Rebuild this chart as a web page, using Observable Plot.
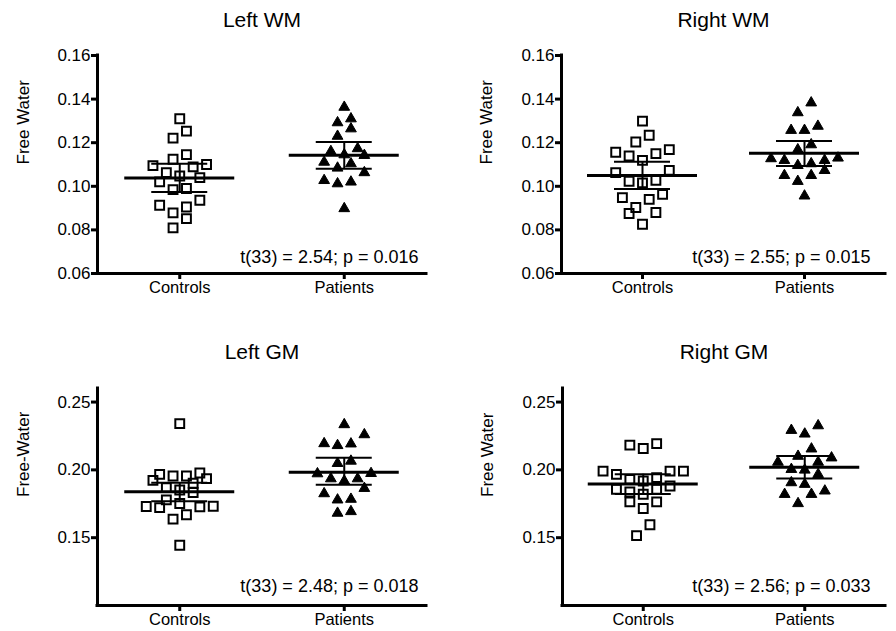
<!DOCTYPE html>
<html><head><meta charset="utf-8">
<script src="https://cdn.jsdelivr.net/npm/d3@7"></script>
<script src="https://cdn.jsdelivr.net/npm/@observablehq/plot@0.6"></script>
<style>
body{margin:0;background:#fff;}
#chart{position:relative;width:896px;height:631px;background:#fff;overflow:hidden;}
#chart svg{position:absolute;}
</style></head><body><div id="chart"></div>
<script>
// ---- data ----
const groups = ["Controls", "Patients"];
const panelTitles = ["Left WM", "Right WM", "Left GM", "Right GM"];
const yLabels = ["Free Water", "Free Water", "Free-Water", "Free Water"];
const statTexts = ["t(33) = 2.54; p = 0.016", "t(33) = 2.55; p = 0.015", "t(33) = 2.48; p = 0.018", "t(33) = 2.56; p = 0.033"];
const wmTicks = [0.06, 0.08, 0.10, 0.12, 0.14, 0.16];
const gmTicks = [0.15, 0.20, 0.25];
const wmDomain = [0.06, 0.16];
const gmDomain = [0.10, 0.26];

const leftWMControls = [0.1310, 0.1253, 0.1221, 0.1145, 0.1124, 0.1095, 0.1100, 0.1089, 0.1063, 0.1047, 0.1040, 0.1020, 0.0985, 0.0990, 0.0936, 0.0913, 0.0905, 0.0878, 0.0852, 0.0809];
const leftWMPatients = [0.1363, 0.1310, 0.1292, 0.1264, 0.1230, 0.1173, 0.1160, 0.1145, 0.1142, 0.1111, 0.1104, 0.1084, 0.1063, 0.1027, 0.1020, 0.1012, 0.0898];
const rightWMControls = [0.1299, 0.1234, 0.1203, 0.1168, 0.1156, 0.1150, 0.1139, 0.1119, 0.1073, 0.1063, 0.1027, 0.1023, 0.1016, 0.0963, 0.0948, 0.0940, 0.0903, 0.0880, 0.0875, 0.0826];
const rightWMPatients = [0.1383, 0.1338, 0.1276, 0.1257, 0.1257, 0.1191, 0.1168, 0.1130, 0.1127, 0.1119, 0.1119, 0.1104, 0.1096, 0.1073, 0.1050, 0.1050, 0.1023, 0.0956];
const leftGMControls = [0.2341, 0.1977, 0.1967, 0.1955, 0.1955, 0.1935, 0.1923, 0.1901, 0.1869, 0.1852, 0.1833, 0.1779, 0.1752, 0.1732, 0.1730, 0.1727, 0.1722, 0.1669, 0.1637, 0.1444];
const leftGMPatients = [0.2334, 0.2260, 0.2194, 0.2192, 0.2180, 0.2065, 0.2048, 0.1974, 0.1972, 0.1935, 0.1935, 0.1918, 0.1864, 0.1825, 0.1784, 0.1779, 0.1693, 0.1681];
const rightGMControls = [0.2194, 0.2182, 0.2158, 0.1991, 0.1991, 0.1991, 0.1967, 0.1943, 0.1930, 0.1918, 0.1881, 0.1857, 0.1857, 0.1837, 0.1820, 0.1764, 0.1764, 0.1715, 0.1595, 0.1515];
const rightGMPatients = [0.2326, 0.2292, 0.2265, 0.2155, 0.2101, 0.2089, 0.2057, 0.2057, 0.2004, 0.1999, 0.1967, 0.1906, 0.1894, 0.1845, 0.1820, 0.1820, 0.1752];

// mean and error-bar ends, [Controls, Patients]
const leftWMMean = [0.1038, 0.1142], leftWMLow = [0.0974, 0.1081], leftWMHigh = [0.1104, 0.1203];
const rightWMMean = [0.1050, 0.1152], rightWMLow = [0.0988, 0.1093], rightWMHigh = [0.1113, 0.1208];
const leftGMMean = [0.1838, 0.1982], leftGMLow = [0.1768, 0.1890], leftGMHigh = [0.1905, 0.2090];
const rightGMMean = [0.1895, 0.2020], rightGMLow = [0.1822, 0.1936], rightGMHigh = [0.1968, 0.2102];

// ---- layout ----
const FONT = '"Liberation Sans", Arial, Helvetica, sans-serif';
const STEP = 6.7;   // horizontal spread step (px)
const BIN = 13.2;   // row height for spreading (px)

function swarm(vals, y, binPx) {
  const order = d3.range(vals.length).sort((a, b) => vals[a] - vals[b]);
  const off = new Array(vals.length).fill(0);
  let i = 0;
  while (i < order.length) {
    const y0 = y(vals[order[i]]);
    let j = i + 1;
    while (j < order.length && y0 - y(vals[order[j]]) < binPx) j++;
    const row = order.slice(i, j).reverse();
    const n = row.length;
    const slots = d3.range(n).map(k => 2 * k - (n - 1))
      .sort((a, b) => Math.abs(b) - Math.abs(a) || b - a);
    row.forEach((idx, k) => off[idx] = slots[k]);
    i = j;
  }
  return off;
}

function panel(cfg) {
  const {width, height, mL, mR, mT, mB} = cfg;
  const y = d3.scaleLinear(cfg.domain, [height - mB, mT]);
  const pxPerUnit = (width - mL - mR) / 2;
  const controls = [], patients = [];
  [cfg.controls, cfg.patients].forEach((vals, g) => {
    const off = swarm(vals, y, BIN);
    vals.forEach((v, i) => (g ? patients : controls).push({value: v, x: g + 0.5 + off[i] * STEP / pxPerUnit}));
  });
  const summary = groups.map((name, g) => ({c: g + 0.5, mean: cfg.mean[g], lo: cfg.low[g], hi: cfg.high[g]}));
  const mh = 55 / pxPerUnit, bh = 28 / pxPerUnit;
  const svg = Plot.plot({
    width, height, marginLeft: mL, marginRight: mR, marginTop: mT, marginBottom: mB,
    style: {fontFamily: FONT, background: "transparent", color: "#000", overflow: "visible"},
    x: {domain: [0, 2]},
    y: {domain: cfg.domain},
    marks: [
      Plot.axisY({ticks: cfg.ticks, tickFormat: d3.format(".2f"), tickSize: 6, tickPadding: 1, strokeWidth: 3, fontSize: 17, label: null}),
      Plot.axisX({ticks: [0.5, 1.5], tickFormat: d => groups[Math.floor(d)], tickSize: 6, tickPadding: 2, strokeWidth: 3, fontSize: 16.5, label: null}),
      Plot.ruleX([0], {strokeWidth: 3, strokeLinecap: "square"}),
      Plot.ruleY([cfg.domain[0]], {strokeWidth: 3, strokeLinecap: "square"}),
      Plot.dot(controls, {x: "x", y: "value", symbol: "square", r: 5, stroke: "#000", strokeWidth: 2, fill: "none"}),
      Plot.dot(patients, {x: "x", y: "value", symbol: "triangle", r: 4, stroke: "#000", strokeWidth: 1, fill: "#000"}),
      Plot.ruleY(summary, {y: "mean", x1: d => d.c - mh, x2: d => d.c + mh, strokeWidth: 3}),
      Plot.ruleY(summary, {y: "lo", x1: d => d.c - bh, x2: d => d.c + bh, strokeWidth: 2}),
      Plot.ruleY(summary, {y: "hi", x1: d => d.c - bh, x2: d => d.c + bh, strokeWidth: 2}),
      Plot.ruleX(summary, {x: "c", y1: "lo", y2: "hi", strokeWidth: 2}),
      Plot.text([cfg.title], {text: d => d, frameAnchor: "top", dy: cfg.titleDy, fontSize: 21, lineAnchor: "middle"}),
      Plot.text([cfg.ylabel], {text: d => d, frameAnchor: "left", rotate: -90, dx: cfg.labelDx, fontSize: 17}),
      Plot.text([cfg.stat], {text: d => d, frameAnchor: "bottom-right", dx: cfg.statDx, dy: cfg.statDy, textAnchor: "end", lineAnchor: "middle", fontSize: 18})
    ]
  });
  svg.style.left = cfg.left + "px";
  svg.style.top = cfg.top + "px";
  document.getElementById("chart").appendChild(svg);
}

panel({left: 0, top: 0, width: 448, height: 310, mL: 97, mR: 22, mT: 55, mB: 37, domain: wmDomain, ticks: wmTicks,
  controls: leftWMControls, patients: leftWMPatients, mean: leftWMMean, low: leftWMLow, high: leftWMHigh,
  title: panelTitles[0], ylabel: yLabels[0], stat: statTexts[0], titleDy: -35, labelDx: -74, statDx: -8, statDy: -16});
panel({left: 448, top: 0, width: 448, height: 310, mL: 113, mR: 11, mT: 55, mB: 37, domain: wmDomain, ticks: wmTicks,
  controls: rightWMControls, patients: rightWMPatients, mean: rightWMMean, low: rightWMLow, high: rightWMHigh,
  title: panelTitles[1], ylabel: yLabels[1], stat: statTexts[1], titleDy: -35, labelDx: -75, statDx: -15, statDy: -16});
panel({left: 0, top: 310, width: 448, height: 321, mL: 97, mR: 22, mT: 78, mB: 26, domain: gmDomain, ticks: gmTicks,
  controls: leftGMControls, patients: leftGMPatients, mean: leftGMMean, low: leftGMLow, high: leftGMHigh,
  title: panelTitles[2], ylabel: yLabels[2], stat: statTexts[2], titleDy: -36, labelDx: -74, statDx: -8, statDy: -19});
panel({left: 448, top: 310, width: 448, height: 321, mL: 114, mR: 11, mT: 78, mB: 26, domain: gmDomain, ticks: gmTicks,
  controls: rightGMControls, patients: rightGMPatients, mean: rightGMMean, low: rightGMLow, high: rightGMHigh,
  title: panelTitles[3], ylabel: yLabels[3], stat: statTexts[3], titleDy: -36, labelDx: -75, statDx: -15, statDy: -19});
</script></body></html>
